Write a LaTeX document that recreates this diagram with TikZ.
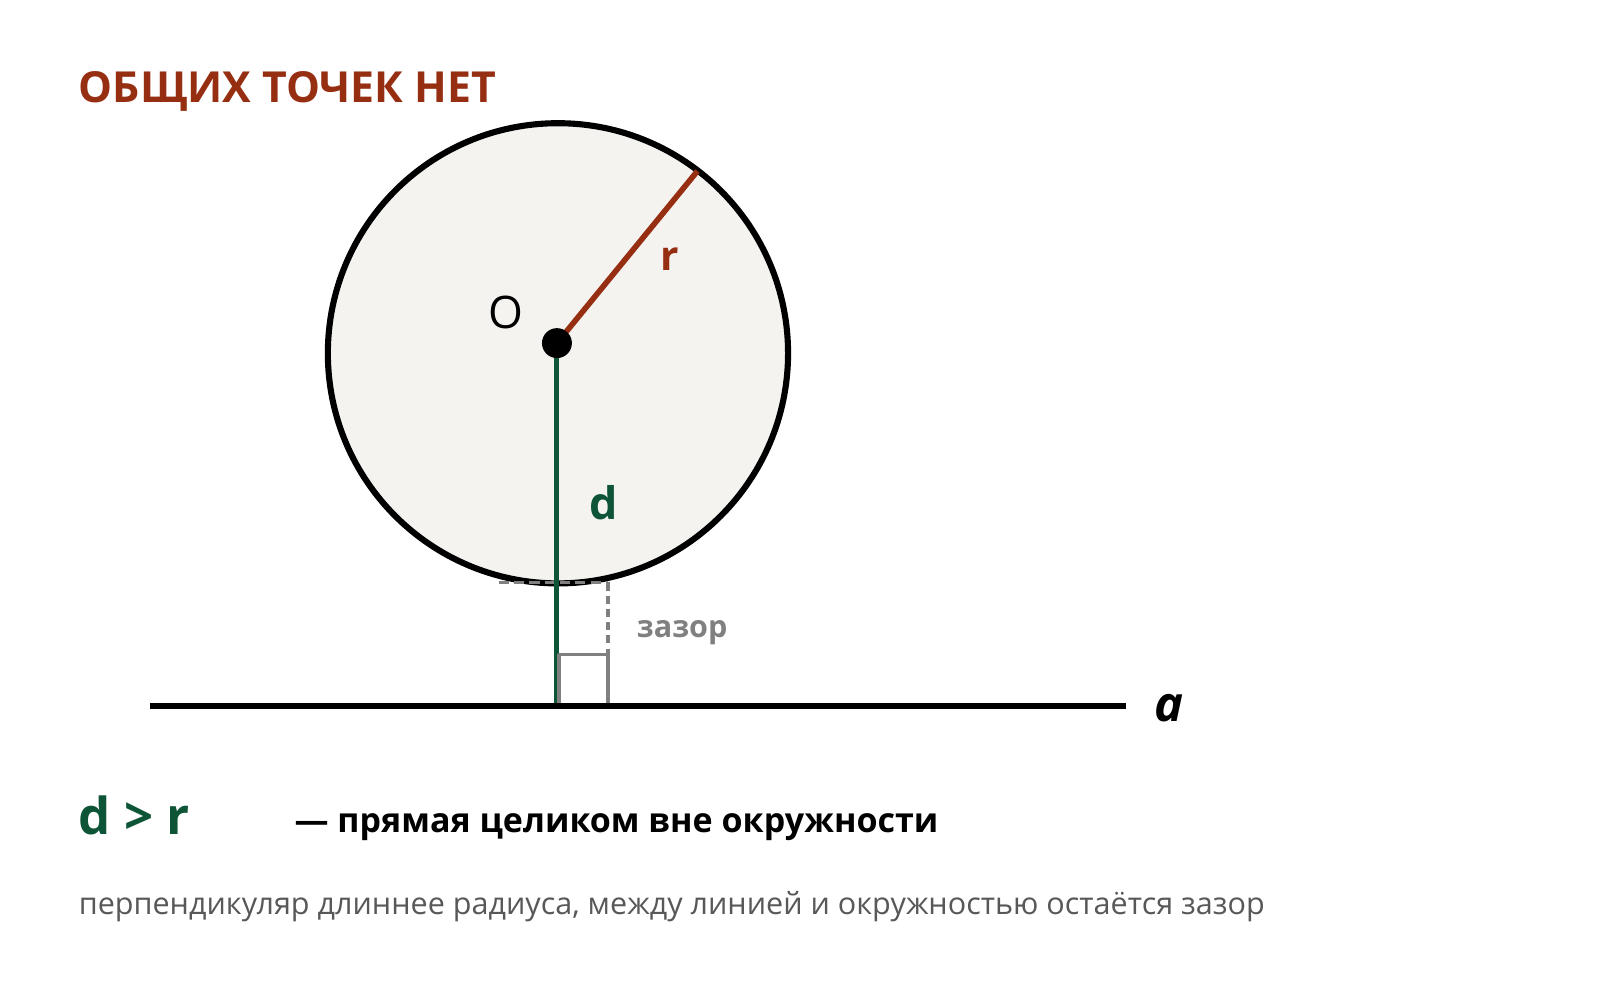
\documentclass[tikz,border=0pt]{standalone}
\usepackage{fontspec}
\setmainfont{Open Sans}
\usetikzlibrary{positioning,calc}
\definecolor{titlered}{RGB}{150,46,18}
\definecolor{dgreen}{RGB}{14,84,54}
\definecolor{gapgray}{RGB}{128,128,128}
\definecolor{notegray}{RGB}{88,88,88}
\definecolor{discfill}{RGB}{244,243,240}
\tikzset{
  thickline/.style={line width=3pt},
  gapline/.style={gapgray, line width=1.75pt},
  lbl/.style={inner sep=0pt, anchor=base},
}
\begin{document}
\begin{tikzpicture}[x=0.5pt,y=-0.5pt,line join=round]
    \useasboundingbox[fill=white] (0,0) rectangle (1568.5,967.3);
    % Points
    \coordinate (C) at (548,347);
    \coordinate (O) at (547,337);
    \coordinate (R) at (685,168);
    \coordinate (F) at (547,693);
    \coordinate (A1) at (147,693);
    \coordinate (A2) at (1106,693);
    % Circle
    \draw[thickline, fill=discfill] (C) circle (226);
    % Gap
    \draw[gapline, dash pattern=on 5pt off 2.5pt] (490,572) -- (597,572) coordinate (G1);
    \draw[gapline, dash pattern=on 4pt off 2.5pt] (G1) -- (597,643);
    % Radius and distance
    \draw[titlered, line width=2.75pt] (O) -- (R);
    \draw[dgreen, line width=2.5pt] (O) -- (F);
    \draw[gapline] (549,643) rectangle (597,692);
    % Line a
    \draw[thickline] (A1) -- (A2);
    \fill (O) circle (14.7);
    % Labels
    \node[lbl, font=\bfseries\fontsize{21}{21}\selectfont, text=titlered, anchor=base west] (title) at (77,101) {ОБЩИХ ТОЧЕК НЕТ};
    \node[lbl, font=\fontsize{22}{22}\selectfont] (Olbl) at (497,323) {O};
    \node[lbl, font=\bfseries\fontsize{20}{20}\selectfont, text=titlered] (rlbl) at (658,266) {r};
    \node[lbl, font=\bfseries\fontsize{22}{22}\selectfont, text=dgreen] (dlbl) at (593,510) {d};
    \node[lbl, font=\bfseries\fontsize{15}{15}\selectfont, text=gapgray] (gap) at (670,626) {зазор};
    \node[lbl, font=\bfseries\itshape\fontsize{24}{24}\selectfont] (albl) at (1148,709) {a};
    \node[lbl, font=\bfseries\fontsize{25}{25}\selectfont, text=dgreen, anchor=base west] (rel) at (77,820) {d > r};
    \node[lbl, font=\bfseries\fontsize{16.7}{16.7}\selectfont, anchor=base west] (desc) at (289,818) {— прямая целиком вне окружности};
    \node[lbl, font=\fontsize{15}{15}\selectfont, text=notegray, anchor=base west] (note) at (77,898) {перпендикуляр длиннее радиуса, между линией и окружностью остаётся зазор};
\end{tikzpicture}
\end{document}
